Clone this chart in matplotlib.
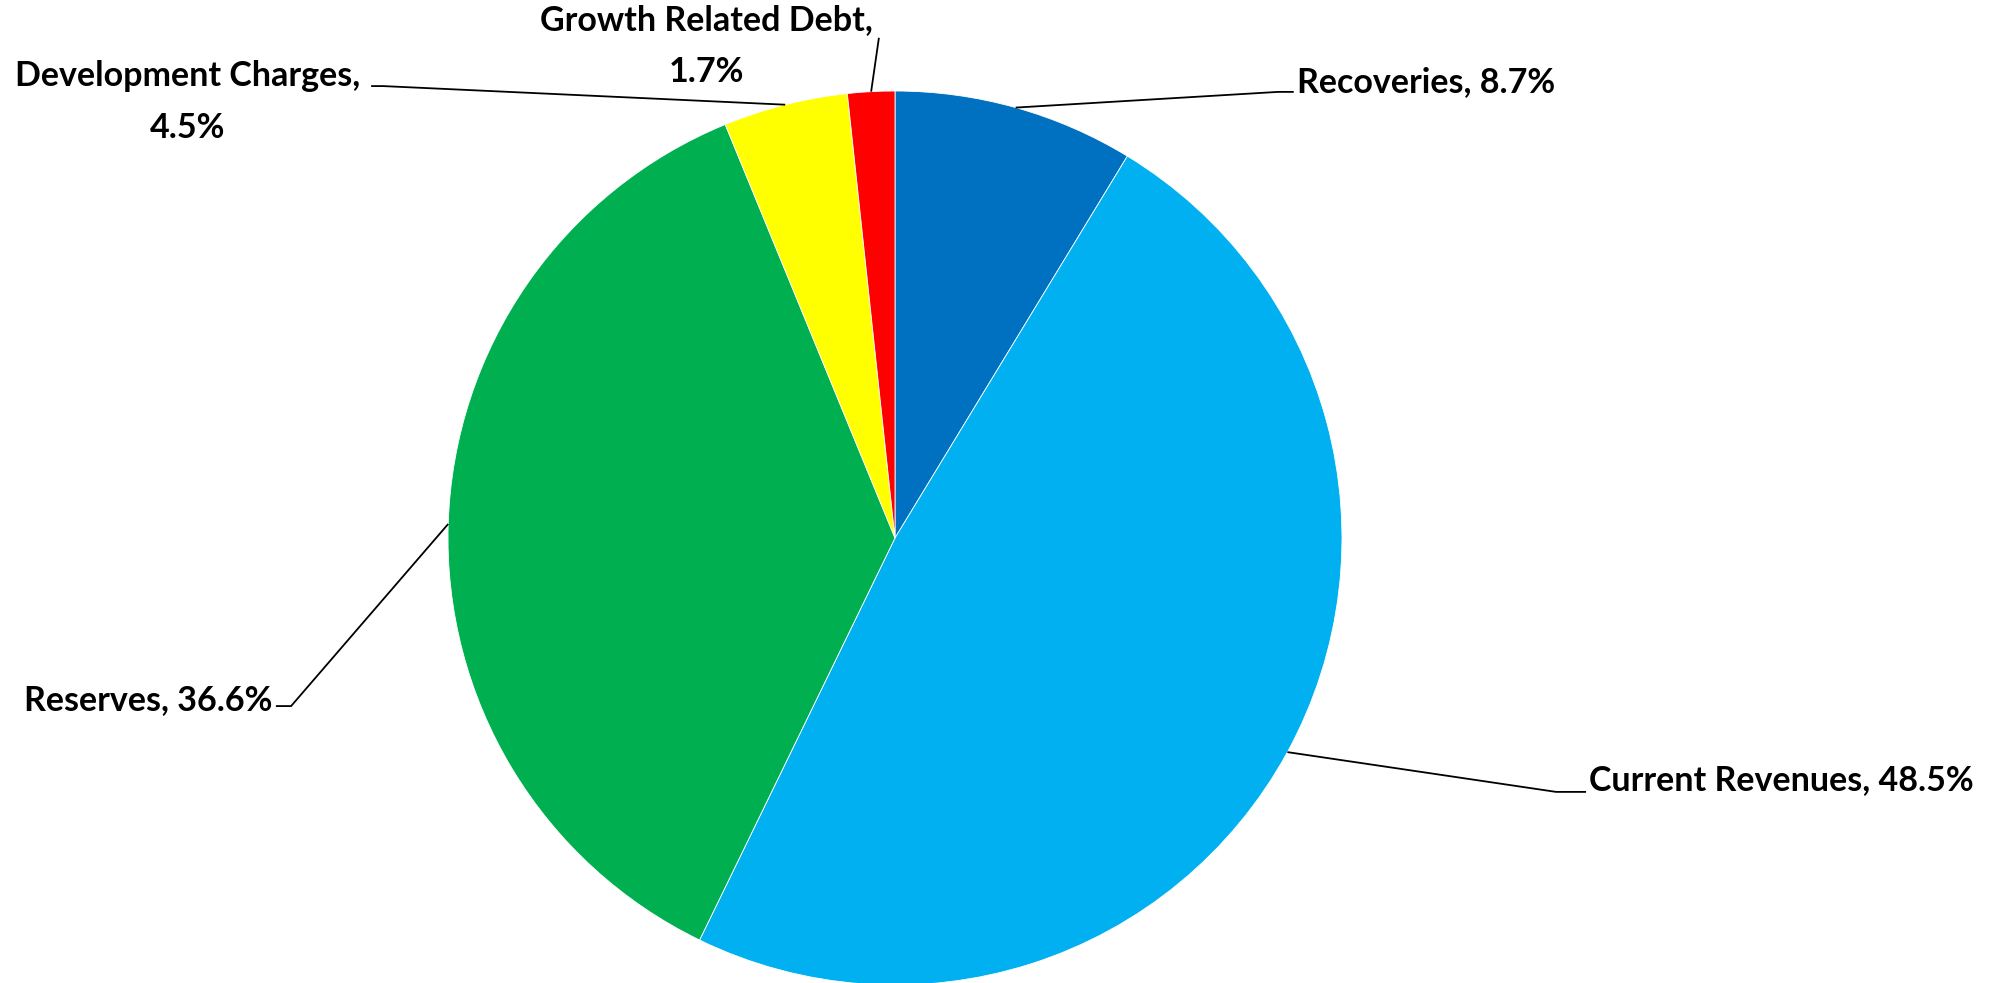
import numpy as np
import matplotlib.pyplot as plt

# funding sources (%), clockwise from 12 o'clock
sources = ['Recoveries', 'Current Revenues', 'Reserves', 'Development Charges', 'Growth Related Debt']
shares = [8.7, 48.5, 36.6, 4.5, 1.7]
colors = ['#0070C0', '#00B0F0', '#00B050', '#FFFF00', '#FF0000']

# label layout (data units, pie radius = 1): text x, text y, ha, elbow x, elbow y, end x
label_pos = {
    'Recoveries':          (0.899, 1.020, 'left',   0.857, 0.998, 0.892),
    'Current Revenues':    (1.553, -0.541, 'left',  1.479, -0.568, 1.546),
    'Reserves':            (-1.394, -0.362, 'right', -1.351, -0.376, -1.385),
    'Development Charges': (-1.583, 0.975, 'center', -1.145, 1.011, -1.172),
    'Growth Related Debt': (-0.421, 1.101, 'center', -0.036, 1.119, -0.036),
}
two_line = ['Development Charges', 'Growth Related Debt']

fig = plt.figure(figsize=(20.04, 9.83), dpi=100)
ax = fig.add_axes([0, 0, 1, 1])

wedges, _ = ax.pie(shares, colors=colors, startangle=90, counterclock=False,
                   radius=1, center=(0, 0),
                   wedgeprops=dict(edgecolor='white', linewidth=0.6))

font = dict(family='Lato', weight='bold', size=24.5, color='black')

for w, name, val in zip(wedges, sources, shares):
    mid = np.deg2rad((w.theta1 + w.theta2) / 2)
    ax_, ay_ = np.cos(mid), np.sin(mid)
    tx, ty, ha, ex, ey, endx = label_pos[name]
    ax.plot([ax_, ex, endx], [ay_, ey, ey], color='black', lw=1.3, solid_capstyle='butt')
    if name in two_line:
        txt = f'{name},\n{val}%'
        ax.text(tx, ty, txt, ha=ha, va='center', linespacing=1.75, **font)
    else:
        ax.text(tx, ty, f'{name}, {val}%', ha=ha, va='center', **font)

ax.set_xlim(-895 / 447, (2004 - 895) / 447)
ax.set_ylim((538 - 983) / 447, 538 / 447)
ax.set_aspect('equal')
ax.axis('off')

fig.savefig('out.png', dpi=100, facecolor='white')
